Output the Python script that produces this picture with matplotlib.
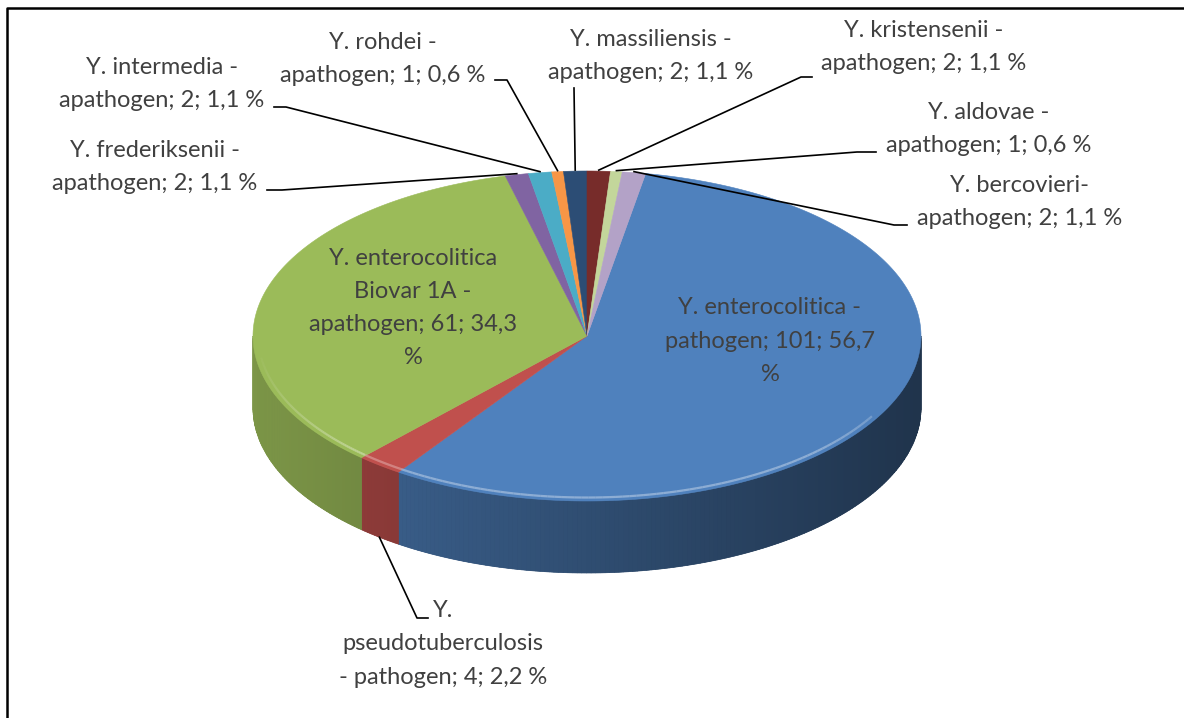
import numpy as np
import matplotlib.pyplot as plt
from matplotlib.patches import Polygon
from matplotlib.collections import LineCollection
from matplotlib.colors import to_rgb

# data (slice order as in the workbook, clockwise)
names = ["Y. enterocolitica -\n", "Y.\npseudotuberculosis\n- ", "Y. enterocolitica\nBiovar 1A -\n",
         "Y. frederiksenii -\n", "Y. intermedia -\n", "Y. rohdei -\n", "Y. massiliensis -\n",
         "Y. kristensenii -\n", "Y. aldovae -\n", "Y. bercovieri-\n"]
kinds = ["pathogen", "pathogen", "apathogen", "apathogen", "apathogen",
         "apathogen", "apathogen", "apathogen", "apathogen", "apathogen"]
counts = [101, 4, 61, 2, 2, 1, 2, 2, 1, 2]
colors = ["#4F81BD", "#C0504D", "#9BBB59", "#8064A2", "#4BACC6",
          "#F79646", "#2C4D75", "#772C2A", "#C3D69B", "#B3A2C7"]

total = sum(counts)
texts = []
for i in range(len(counts)):
    pct = f"{100 * counts[i] / total:.1f}".replace(".", ",")
    sep = "\n" if i in (0, 2) else " "
    texts.append(f"{names[i]}{kinds[i]}; {counts[i]}; {pct}{sep}%")

# layout (pixel coordinates)
cx, cy, a, b, depth = 587, 336, 334, 165, 72
start = 360 * 5 / 178  # first slice starts right of 12 o'clock
# label centre, elbow of leader line, end of leader line (None = label inside)
label_pos = [(770, 341), (443, 644), (413, 308), (155, 167), (162, 84),
             (383, 59), (651, 56), (924, 47), (989, 129), (1020, 202)]
leaders = [None, ((417, 618), 428), None, ((282, 190), 267), ((286, 107), 274),
           ((507, 80), 495), ((574, 88), 574), ((801, 77), 812), ((857, 152), 876),
           ((894, 225), 907)]

plt.rcParams['font.family'] = ['Lato', 'DejaVu Sans']
fig = plt.figure(figsize=(11.84, 7.18), dpi=100)
ax = fig.add_axes([0, 0, 1, 1])
ax.set_xlim(0, 1184)
ax.set_ylim(718, 0)
ax.axis("off")


def pt(theta, r=1.0, dy=0.0):
    t = np.radians(theta)
    return cx + r * a * np.sin(t), cy - r * b * np.cos(t) + dy


def shade(c, f):
    return tuple(min(1, v * f) for v in to_rgb(c))


def side_f(theta):
    return 0.6 - 0.2 * np.sin(np.radians(theta))


edges = start + 360 * np.concatenate([[0], np.cumsum(counts)]) / total

# side walls (front half only, 90..270 deg)
for i in range(len(counts)):
    t1, t2 = edges[i], edges[i + 1]
    if t1 >= 360:
        continue
    lo, hi = max(t1, 90), min(t2, 270)
    if hi <= lo:
        continue
    # solid base so the gradient strips leave no light seams
    th = np.linspace(lo, hi, 200)
    wall = [pt(t) for t in th] + [pt(t, dy=depth) for t in th[::-1]]
    ax.add_patch(Polygon(wall, closed=True, facecolor=shade(colors[i], side_f((lo + hi) / 2)),
                         edgecolor="none", zorder=1))
    steps = np.linspace(lo, hi, int((hi - lo) / 0.8) + 2)
    for s1, s2 in zip(steps[:-1], steps[1:]):
        c = shade(colors[i], side_f((s1 + s2) / 2))
        th = np.linspace(s1, s2, 4)
        top = [pt(t) for t in th]
        bot = [pt(t, dy=depth) for t in th[::-1]]
        ax.add_patch(Polygon(top + bot, closed=True, facecolor=c,
                             edgecolor=c, linewidth=0.5, zorder=1))

# top faces
for i in range(len(counts)):
    th = np.linspace(edges[i], edges[i + 1], max(3, int((edges[i + 1] - edges[i]) * 4)))
    poly = [(cx, cy)] + [pt(t) for t in th]
    ax.add_patch(Polygon(poly, closed=True, facecolor=colors[i], edgecolor=colors[i],
                         linewidth=0.4, zorder=2))
    # bevel highlight along the front rim, fading towards the sides
    lo, hi = max(edges[i], 120), min(edges[i + 1], 262)
    if hi > lo and edges[i] < 360:
        th = np.linspace(lo, hi, 80)
        xy = np.array([pt(t, r=0.985, dy=-1) for t in th])
        segs = np.stack([xy[:-1], xy[1:]], axis=1)
        mids = np.radians((th[:-1] + th[1:]) / 2)
        alpha = 0.65 * np.clip(-np.cos(mids) * 1.4, 0, 1) ** 1.5
        light = np.array(to_rgb(colors[i])) * 0.45 + 0.55
        cols = [(*light, al) for al in alpha]
        ax.add_collection(LineCollection(segs, colors=cols, linewidths=1.6, zorder=3))

# labels and leader lines
for i in range(len(counts)):
    x, y = label_pos[i]
    ax.text(x, y, texts[i], ha="center", va="center", fontsize=17,
            color="#404040", linespacing=1.72, zorder=5)
    if leaders[i] is None:
        continue
    mid = (edges[i] + edges[i + 1]) / 2
    if 90 < mid % 360 < 270:
        ax0, ay0 = pt(mid, dy=depth)
    else:
        ax0, ay0 = pt(mid, dy=-1)
    (ex, ey), tx = leaders[i]
    ax.plot([ax0, ex, tx], [ay0, ey, ey], color="black", lw=1.2, zorder=4)

# chart border (only left and top edges fall inside the picture)
ax.plot([7, 7, 1184], [718, 8, 8], color="black", lw=1.8, zorder=6)

fig.savefig("out.png", dpi=100)
